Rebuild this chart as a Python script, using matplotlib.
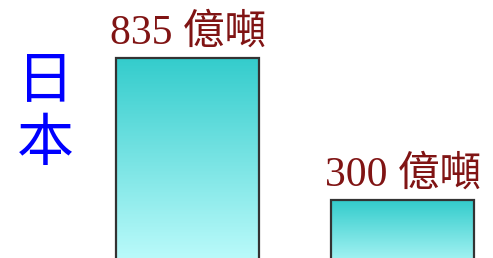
import matplotlib
matplotlib.use("Agg")
import matplotlib.pyplot as plt
import numpy as np
from matplotlib.colors import LinearSegmentedColormap

# data
labels = ["835 億噸", "300 億噸"]
values = [835, 300]
positions = [0, 1]
country = "日本"

fig = plt.figure(figsize=(4.93, 2.58), dpi=100)
ax = fig.add_axes([0, 0, 1, 1])
ax.axis("off")

cmap = LinearSegmentedColormap.from_list("teal", ["#c8ffff", "#33cccc"])
width = 0.665
grad = np.linspace(0, 1, 256).reshape(-1, 1)

bars = ax.bar(positions, values, width=width, color="none", edgecolor="#333333", linewidth=1.6, zorder=3)
for b, lab in zip(bars, labels):
    x0, w, h = b.get_x(), b.get_width(), b.get_height()
    im = ax.imshow(grad, cmap=cmap, origin="lower", aspect="auto",
                   extent=[x0, x0 + w, 0, h], zorder=2)
    im.set_clip_path(b)
    ax.text(x0 + w / 2, h + 55, lab, ha="center", va="baseline", fontsize=30,
            color="#801414", family=["Liberation Serif", "Noto Sans CJK TC"])

ax.set_xlim(-0.874, 1.419)
ax.set_ylim(82.7, 1053)

fig.text(0.093, 0.566, "\n".join(country), ha="center", va="center", fontsize=41,
         color="#0000ff", linespacing=1.1, family=["Noto Sans CJK TC"])

fig.savefig("out.png", dpi=100)
